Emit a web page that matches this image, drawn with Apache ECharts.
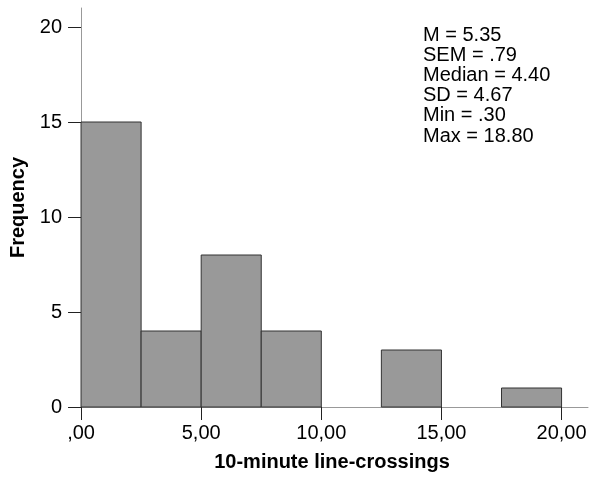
<!DOCTYPE html>
<html>
<head>
<meta charset="utf-8">
<script src="https://cdn.jsdelivr.net/npm/echarts@6/dist/echarts.min.js"></script>
<style>
  html, body { margin: 0; padding: 0; background: #fff; }
  #chart { width: 596px; height: 478px; }
</style>
</head>
<body>
<div id="chart"></div>
<script>
// Histogram bins (lower edge, upper edge) and their frequencies
const binStarts = [0, 2.5, 5, 7.5, 10, 12.5, 15, 17.5];
const binEnds = [2.5, 5, 7.5, 10, 12.5, 15, 17.5, 20];
const frequencies = [15, 4, 8, 4, 0, 3, 0, 1];

// Axis ticks
const xTickValues = [0, 5, 10, 15, 20];
const xTickLabels = [',00', '5,00', '10,00', '15,00', '20,00'];
const yTickValues = [0, 5, 10, 15, 20];

// Descriptive statistics shown in the corner
const statNames = ['M', 'SEM', 'Median', 'SD', 'Min', 'Max'];
const statValues = ['5.35', '.79', '4.40', '4.67', '.30', '18.80'];

const FONT = '"Liberation Sans", Arial, sans-serif';
const FS = 20;

const bins = binStarts.map((s, i) => [s, binEnds[i], frequencies[i]]).filter(b => b[2] > 0);

const chart = echarts.init(document.getElementById('chart'), null, { renderer: 'canvas' });

chart.setOption({
  animation: false,
  backgroundColor: '#ffffff',
  grid: { left: 76, right: 8, top: 8, bottom: 71, containLabel: false, outerBoundsMode: 'none' },
  xAxis: {
    type: 'value',
    min: -0.21,
    max: 21.1,
    name: '10-minute line-crossings',
    nameLocation: 'middle',
    nameGap: 45,
    nameTextStyle: { fontFamily: FONT, fontSize: FS, fontWeight: 'bold', color: '#000' },
    axisLine: { show: true, lineStyle: { color: '#999', width: 1 } },
    axisTick: { show: true, length: 13, customValues: xTickValues, lineStyle: { color: '#222', width: 1 } },
    axisLabel: {
      customValues: xTickValues,
      margin: 16,
      fontFamily: FONT, fontSize: FS, color: '#000',
      formatter: v => xTickLabels[xTickValues.indexOf(v)]
    },
    splitLine: { show: false }
  },
  yAxis: {
    type: 'value',
    min: 0,
    max: 21,
    name: 'Frequency',
    nameLocation: 'middle',
    nameGap: 47,
    nameRotate: 90,
    nameTextStyle: { fontFamily: FONT, fontSize: FS, fontWeight: 'bold', color: '#000' },
    axisLine: { show: true, lineStyle: { color: '#999', width: 1 } },
    axisTick: { show: true, length: 13, customValues: yTickValues, lineStyle: { color: '#222', width: 1 } },
    axisLabel: {
      customValues: yTickValues,
      margin: 14,
      fontFamily: FONT, fontSize: FS, color: '#000'
    },
    splitLine: { show: false }
  },
  series: [{
    type: 'custom',
    data: bins,
    encode: { x: [0, 1], y: 2 },
    renderItem: function (params, api) {
      const p0 = api.coord([api.value(0), api.value(2)]);
      const p1 = api.coord([api.value(1), 0]);
      return {
        type: 'rect',
        shape: { x: p0[0], y: p0[1], width: p1[0] - p0[0], height: p1[1] - p0[1] },
        style: { fill: '#999999', stroke: '#333333', lineWidth: 1 }
      };
    }
  }],
  graphic: [{
    type: 'text',
    left: 423,
    top: 25,
    style: {
      text: statNames.map((n, i) => n + ' = ' + statValues[i]).join('\n'),
      fontFamily: FONT,
      fontSize: FS,
      lineHeight: 20.2,
      fill: '#000'
    }
  }]
});
</script>
</body>
</html>
